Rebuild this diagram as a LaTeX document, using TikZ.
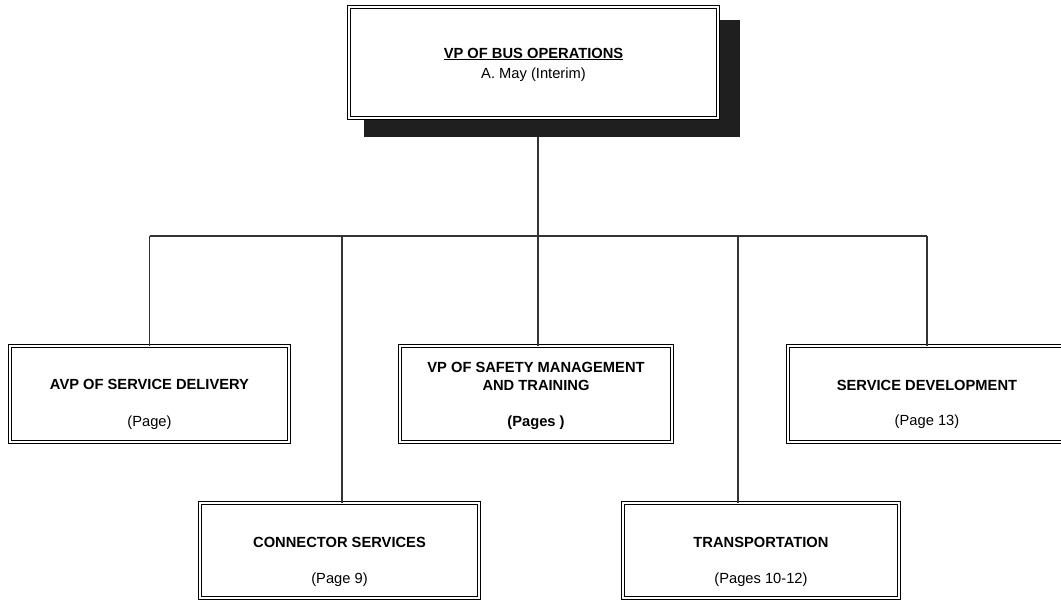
\documentclass[tikz,border=0pt]{standalone}
\usepackage{fontspec}
\setmainfont{Liberation Sans}
\begin{document}
\begin{tikzpicture}[x=1pt,y=-1pt,
  every node/.style={inner sep=0pt, outer sep=0pt},
  unitbox/.style={rectangle, draw=black, line width=0.9pt, double=white, double distance=1.9pt, fill=white},
  shadowbox/.style={rectangle, fill=black!88},
  unittitle/.style={font=\fontsize{14.7}{17.6}\selectfont\bfseries, anchor=base},
  unitpage/.style={font=\fontsize{14.7}{17.6}\selectfont, anchor=base},
  link/.style={draw=black!80, line width=1.1pt}]
\useasboundingbox (0,0) rectangle (1061,600);
\clip (0,0) rectangle (1061,600);

\node[shadowbox, minimum width=376pt, minimum height=117pt] (vpshadow) at (552,78.5) {};
\node[unitbox, minimum width=369pt, minimum height=111pt] (vp) at (533.5,62.5) {};
\node[unittitle] (vpname) at (533.5,58) {\underline{VP OF BUS OPERATIONS}};
\node[unitpage] (vpwho) at (533.5,78.5) {A. May (Interim)};

\node[unitbox, minimum width=279pt, minimum height=96pt] (avp) at (149.5,394) {};
\node[unittitle] (avpname) at (149.5,389) {AVP OF SERVICE DELIVERY};
\node[unitpage] (avppage) at (149.5,426) {(Page)};

\node[unitbox, minimum width=272pt, minimum height=96pt] (safety) at (536,394) {};
\node[unittitle] (safetyname) at (536,372) {VP OF SAFETY MANAGEMENT};
\node[unittitle] (safetyname2) at (536,390) {AND TRAINING};
\node[unittitle] (safetypage) at (536,426) {(Pages )};

\node[unitbox, minimum width=278pt, minimum height=96pt] (sd) at (927,394) {};
\node[unittitle] (sdname) at (927,390) {SERVICE DEVELOPMENT};
\node[unitpage] (sdpage) at (927,425) {(Page 13)};

\node[unitbox, minimum width=279pt, minimum height=95pt] (conn) at (339.5,550.5) {};
\node[unittitle] (connname) at (339.5,547) {CONNECTOR SERVICES};
\node[unitpage] (connpage) at (339.5,583) {(Page 9)};

\node[unitbox, minimum width=276pt, minimum height=95pt] (trans) at (761,550.5) {};
\node[unittitle] (transname) at (761,547) {TRANSPORTATION};
\node[unitpage] (transpage) at (761,583) {(Pages 10-12)};

\coordinate (hub) at (538,236);
\draw[link] (vpshadow.south -| hub) -- (hub);
\draw[link] (avp.north |- hub) -- (sd.north |- hub);
\draw[link] (avp.north) -- (avp.north |- hub);
\draw[link] (hub) -- (hub |- safety.north);
\draw[link] (sd.north) -- (sd.north |- hub);
\draw[link] ([xshift=2.5pt]conn.north) -- ([xshift=2.5pt]conn.north |- hub);
\draw[link] ([xshift=-23pt]trans.north) -- ([xshift=-23pt]trans.north |- hub);
\end{tikzpicture}
\end{document}
